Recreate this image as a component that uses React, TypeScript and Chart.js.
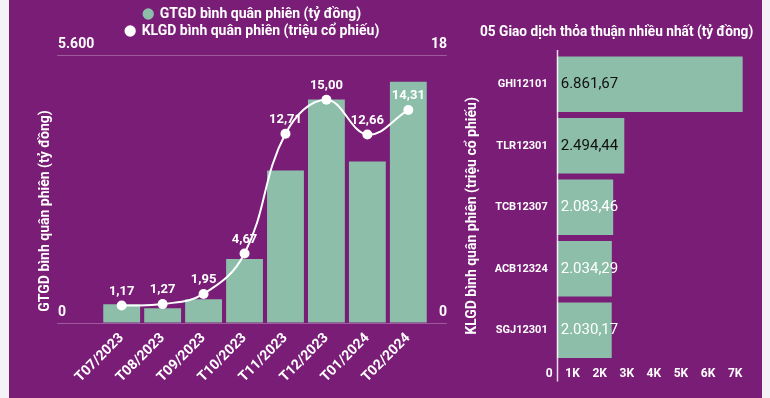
import React, { useEffect, useRef } from 'react';
import { Chart, registerables } from 'chart.js';

Chart.register(...registerables);

// ---------- data ----------
const months = ['T07/2023', 'T08/2023', 'T09/2023', 'T10/2023', 'T11/2023', 'T12/2023', 'T01/2024', 'T02/2024'];
const gtgdValues = [392, 308, 497, 1336, 3188, 4671, 3377, 5040];
const klgdValues = [1.17, 1.27, 1.95, 4.67, 12.71, 15.0, 12.66, 14.31];
const gtgdAxisMax = 5600;
const klgdAxisMax = 18;

const deals = ['GHI12101', 'TLR12301', 'TCB12307', 'ACB12324', 'SGJ12301'];
const dealValues = [6861.67, 2494.44, 2083.46, 2034.29, 2030.17];
const dealTicks = [0, 1000, 2000, 3000, 4000, 5000, 6000, 7000];
const dealAxisMax = 7250;

const legendGTGD = 'GTGD bình quân phiên (tỷ đồng)';
const legendKLGD = 'KLGD bình quân phiên (triệu cổ phiếu)';
const dealsTitle = '05 Giao dịch thỏa thuận nhiều nhất (tỷ đồng)';

// ---------- styles ----------
const FONT = 'Roboto, "Noto Sans", "DejaVu Sans", sans-serif';
const PURPLE = '#7a1d77';
const GREEN = '#8cbeaa';
const GRID = 'rgba(255,255,255,0.28)';
const dealLabelColors = ['#111111', '#111111', '#ffffff', '#ffffff', '#ffffff'];

function fmtVN(v: number, decimals: number): string {
  const fixed = Number(v).toFixed(decimals);
  const [i, d] = fixed.split('.');
  const intF = i.replace(/\B(?=(\d{3})+(?!\d))/g, '.');
  return d ? intF + ',' + d : intF;
}

const legendSpacer = {
  id: 'legendSpacer',
  afterInit(chart: any) {
    const lg = chart.legend;
    if (!lg) return;
    const orig = lg.fit.bind(lg);
    lg.fit = function () {
      orig();
      this.height += 7;
    };
  },
};

const pointLabels = {
  id: 'pointLabels',
  afterDatasetsDraw(chart: any) {
    const ctx = chart.ctx;
    const meta = chart.getDatasetMeta(1);
    ctx.save();
    ctx.fillStyle = '#ffffff';
    ctx.font = `bold 13px ${FONT}`;
    ctx.textAlign = 'center';
    ctx.textBaseline = 'middle';
    meta.data.forEach((pt: any, i: number) => {
      ctx.fillText(fmtVN(klgdValues[i], 2), pt.x, pt.y - 14);
    });
    ctx.restore();
  },
};

function drawRot(ctx: CanvasRenderingContext2D, text: string, x: number, y: number) {
  ctx.save();
  ctx.translate(x, y);
  ctx.rotate(-Math.PI / 2);
  ctx.fillText(text, 0, 0);
  ctx.restore();
}

const axisTitles = {
  id: 'axisTitles',
  afterDraw(chart: any) {
    const ctx = chart.ctx;
    const ca = chart.chartArea;
    const midY = (ca.top + ca.bottom) / 2;
    ctx.save();
    ctx.fillStyle = '#ffffff';
    ctx.font = `bold 14px ${FONT}`;
    ctx.textAlign = 'center';
    ctx.textBaseline = 'middle';
    drawRot(ctx, legendGTGD, 36, midY + 22);
    drawRot(ctx, legendKLGD, 463, midY + 27);
    ctx.restore();
  },
};

const zeroLine = {
  id: 'zeroLine',
  afterDraw(chart: any) {
    const ctx = chart.ctx;
    const ca = chart.chartArea;
    const x = Math.round(chart.scales.x.getPixelForValue(0)) + 0.5;
    ctx.save();
    ctx.strokeStyle = 'rgba(255,255,255,0.85)';
    ctx.lineWidth = 1.5;
    ctx.beginPath();
    ctx.moveTo(x, ca.top - 3.5);
    ctx.lineTo(x, ca.bottom + 20.5);
    ctx.stroke();
    ctx.restore();
  },
};

const barValueLabels = {
  id: 'barValueLabels',
  afterDatasetsDraw(chart: any) {
    const ctx = chart.ctx;
    const meta = chart.getDatasetMeta(0);
    ctx.save();
    ctx.font = `15px ${FONT}`;
    ctx.textAlign = 'left';
    ctx.textBaseline = 'middle';
    meta.data.forEach((bar: any, i: number) => {
      ctx.fillStyle = dealLabelColors[i];
      ctx.fillText(fmtVN(dealValues[i], 2), bar.base + 4, bar.y);
    });
    ctx.restore();
  },
};

export default function App() {
  const leftRef = useRef<HTMLCanvasElement>(null);
  const rightRef = useRef<HTMLCanvasElement>(null);

  useEffect(() => {
    const tickFont = { family: FONT, size: 14, weight: 'bold' as const };
    const left = new Chart(leftRef.current as HTMLCanvasElement, {
      type: 'bar',
      data: {
        labels: months,
        datasets: [
          {
            type: 'bar',
            label: legendGTGD,
            data: gtgdValues,
            backgroundColor: GREEN,
            borderWidth: 0,
            yAxisID: 'y',
            order: 1,
            barPercentage: 0.9,
            categoryPercentage: 1,
          } as any,
          {
            type: 'line',
            label: legendKLGD,
            data: klgdValues,
            yAxisID: 'y1',
            order: 0,
            borderColor: '#ffffff',
            backgroundColor: '#ffffff',
            borderWidth: 2,
            pointRadius: 5,
            pointBackgroundColor: '#ffffff',
            pointBorderWidth: 0,
            tension: 0.4,
          } as any,
        ],
      },
      options: {
        animation: false,
        responsive: false,
        maintainAspectRatio: false,
        layout: { padding: { left: 49, right: 33, top: 4, bottom: 0 } },
        plugins: {
          tooltip: { enabled: false },
          legend: {
            position: 'top',
            labels: {
              color: '#ffffff',
              font: tickFont,
              usePointStyle: true,
              pointStyle: 'circle',
              boxWidth: 9,
              boxHeight: 8,
              padding: 3,
              sort: (a: any, b: any) => a.datasetIndex - b.datasetIndex,
              generateLabels: (chart: any) =>
                (Chart.defaults.plugins.legend.labels as any)
                  .generateLabels(chart)
                  .map((l: any) => ({ ...l, lineWidth: 0, fontColor: '#ffffff' })),
            },
          },
        },
        scales: {
          x: {
            grid: { display: false, drawTicks: false },
            border: { display: false },
            ticks: { color: '#ffffff', font: tickFont, minRotation: 45, maxRotation: 45, padding: 7 },
            afterFit: (s: any) => { s.height = 75; },
          },
          y: {
            position: 'left',
            min: 0,
            max: gtgdAxisMax,
            ticks: {
              stepSize: gtgdAxisMax,
              color: '#ffffff',
              font: tickFont,
              crossAlign: 'far',
              labelOffset: -11,
              callback: (v: any) => fmtVN(v, 0),
            },
            grid: { color: GRID, tickLength: 44, drawTicks: true },
            border: { display: false },
            afterFit: (s: any) => { s.width = 43.2; },
          },
          y1: {
            position: 'right',
            min: 0,
            max: klgdAxisMax,
            ticks: {
              stepSize: klgdAxisMax,
              color: '#ffffff',
              font: tickFont,
              crossAlign: 'far',
              labelOffset: -11,
            },
            grid: { color: GRID, tickLength: 18, drawOnChartArea: false },
            border: { display: false },
            afterFit: (s: any) => { s.width = 18.2; },
          },
        },
      } as any,
      plugins: [legendSpacer, pointLabels, axisTitles],
    });

    const right = new Chart(rightRef.current as HTMLCanvasElement, {
      type: 'bar',
      data: {
        labels: deals,
        datasets: [
          {
            data: dealValues,
            backgroundColor: GREEN,
            borderWidth: 0,
            barPercentage: 0.9,
            categoryPercentage: 1,
          },
        ],
      },
      options: {
        indexAxis: 'y',
        animation: false,
        responsive: false,
        maintainAspectRatio: false,
        layout: { padding: { left: 0, right: 8.8, top: 0, bottom: 0 } },
        plugins: {
          legend: { display: false },
          tooltip: { enabled: false },
          title: {
            display: true,
            text: dealsTitle,
            color: '#ffffff',
            font: { family: FONT, size: 14, weight: 'bold' },
            padding: { top: 24.3, bottom: 12.4 },
          },
        },
        scales: {
          x: {
            min: 0,
            max: dealAxisMax,
            afterBuildTicks: (s: any) => { s.ticks = dealTicks.map((v) => ({ value: v })); },
            ticks: {
              color: '#ffffff',
              font: { family: FONT, size: 12, weight: 'bold' },
              align: 'end',
              labelOffset: -4,
              padding: 6,
              callback: (v: any) => (Number(v) === 0 ? '0' : Number(v) / 1000 + 'K'),
            },
            grid: { display: false, drawTicks: false },
            border: { display: false },
            afterFit: (s: any) => { s.height = 37; },
          },
          y: {
            ticks: { color: '#ffffff', font: { family: FONT, size: 11, weight: 'bold' }, padding: 9 },
            grid: { display: false, drawTicks: false },
            border: { display: false },
            afterFit: (s: any) => { s.width = 76.7; },
          },
        },
      } as any,
      plugins: [zeroLine, barValueLabels],
    });

    return () => {
      left.destroy();
      right.destroy();
    };
  }, []);

  return (
    <div style={{ position: 'absolute', left: 0, top: 0, width: 770, height: 398, background: '#f4f2f6', overflow: 'hidden' }}>
      <div style={{ position: 'absolute', left: 9, top: 0, width: 753, height: 398, background: PURPLE }}>
        <canvas ref={leftRef} width={471} height={398} style={{ position: 'absolute', left: 0, top: 0, width: 471, height: 398 }} />
        <canvas ref={rightRef} width={282} height={398} style={{ position: 'absolute', left: 471, top: 0, width: 282, height: 398 }} />
      </div>
    </div>
  );
}
